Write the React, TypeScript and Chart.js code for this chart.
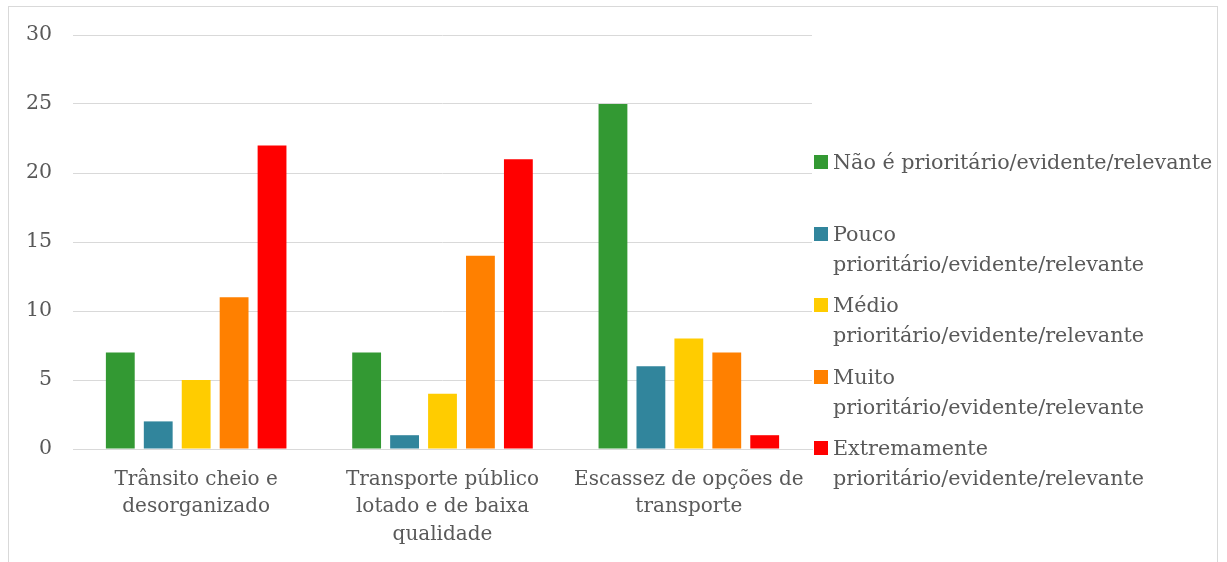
import React, { useEffect, useRef } from "react";
import { Chart, registerables } from "chart.js";

Chart.register(...registerables);

const categories: string[][] = [
  ["Trânsito cheio e", "desorganizado"],
  ["Transporte público", "lotado e de baixa", "qualidade"],
  ["Escassez de opções de", "transporte"],
];

const seriesNames = [
  "Não é prioritário/evidente/relevante",
  "Pouco prioritário/evidente/relevante",
  "Médio prioritário/evidente/relevante",
  "Muito prioritário/evidente/relevante",
  "Extremamente prioritário/evidente/relevante",
];

const legendLines: string[][] = [
  ["Não é prioritário/evidente/relevante"],
  ["Pouco", "prioritário/evidente/relevante"],
  ["Médio", "prioritário/evidente/relevante"],
  ["Muito", "prioritário/evidente/relevante"],
  ["Extremamente", "prioritário/evidente/relevante"],
];

const naoValues = [7, 7, 25];
const poucoValues = [2, 1, 6];
const medioValues = [5, 4, 8];
const muitoValues = [11, 14, 7];
const extremamenteValues = [22, 21, 1];

const seriesValues = [naoValues, poucoValues, medioValues, muitoValues, extremamenteValues];
const seriesColors = ["#339933", "#31859C", "#FFCC00", "#FF8000", "#FF0000"];

const yTicks = [0, 5, 10, 15, 20, 25, 30];

const FONT = "'DejaVu Serif', serif";
const TEXT = "#595959";
const GRID = "#d9d9d9";

export default function App() {
  const ref = useRef<HTMLCanvasElement | null>(null);

  useEffect(() => {
    if (!ref.current) return;
    const chart = new Chart(ref.current, {
      type: "bar",
      data: {
        labels: categories,
        datasets: seriesNames.map((name, i) => ({
          label: name,
          data: seriesValues[i],
          backgroundColor: seriesColors[i],
          borderWidth: 0,
          categoryPercentage: 0.77,
          barPercentage: 0.76,
        })),
      },
      options: {
        animation: false,
        responsive: false,
        maintainAspectRatio: false,
        layout: { padding: { top: 35, right: 18, bottom: 0, left: 0 } },
        plugins: {
          legend: { display: false },
          tooltip: { enabled: false },
        },
        scales: {
          x: {
            grid: { display: false, drawTicks: false },
            border: { display: true, color: GRID },
            ticks: {
              color: TEXT,
              font: { family: FONT, size: 20, lineHeight: 1.37 },
              padding: 17,
              maxRotation: 0,
              autoSkip: false,
            },
            afterFit: (axis: any) => {
              axis.height = 113;
            },
          },
          y: {
            min: 0,
            max: 30,
            grid: { color: GRID, drawTicks: false },
            border: { display: false },
            afterBuildTicks: (axis: any) => {
              axis.ticks = yTicks.map((v) => ({ value: v }));
            },
            ticks: {
              color: TEXT,
              font: { family: FONT, size: 20.5 },
              padding: 21,
            },
            afterFit: (axis: any) => {
              axis.width = 73;
            },
          },
        },
      },
    });
    return () => chart.destroy();
  }, []);

  return (
    <div
      style={{
        position: "absolute",
        left: 0,
        top: 0,
        width: 1227,
        height: 562,
        overflow: "hidden",
        background: "#fff",
        fontFamily: FONT,
      }}
    >
      <div
        style={{
          position: "absolute",
          left: 8,
          top: 6,
          width: 1210,
          height: 620,
          border: `1px solid ${GRID}`,
          boxSizing: "border-box",
        }}
      />
      <canvas
        ref={ref}
        width={830}
        height={562}
        style={{ position: "absolute", left: 0, top: 0, width: 830, height: 562 }}
      />
      <div style={{ position: "absolute", left: 814, top: 147 }}>
        {legendLines.map((lines, i) => (
          <div key={i} style={{ display: "flex", alignItems: "flex-start", height: 71.5 }}>
            <div
              style={{
                width: 14,
                height: 14,
                marginTop: 8,
                marginRight: 5,
                background: seriesColors[i],
                flex: "none",
              }}
            />
            <div style={{ color: TEXT, fontSize: 20.7, lineHeight: "30px", whiteSpace: "nowrap" }}>
              {lines.map((l, j) => (
                <div key={j}>{l}</div>
              ))}
            </div>
          </div>
        ))}
      </div>
    </div>
  );
}
